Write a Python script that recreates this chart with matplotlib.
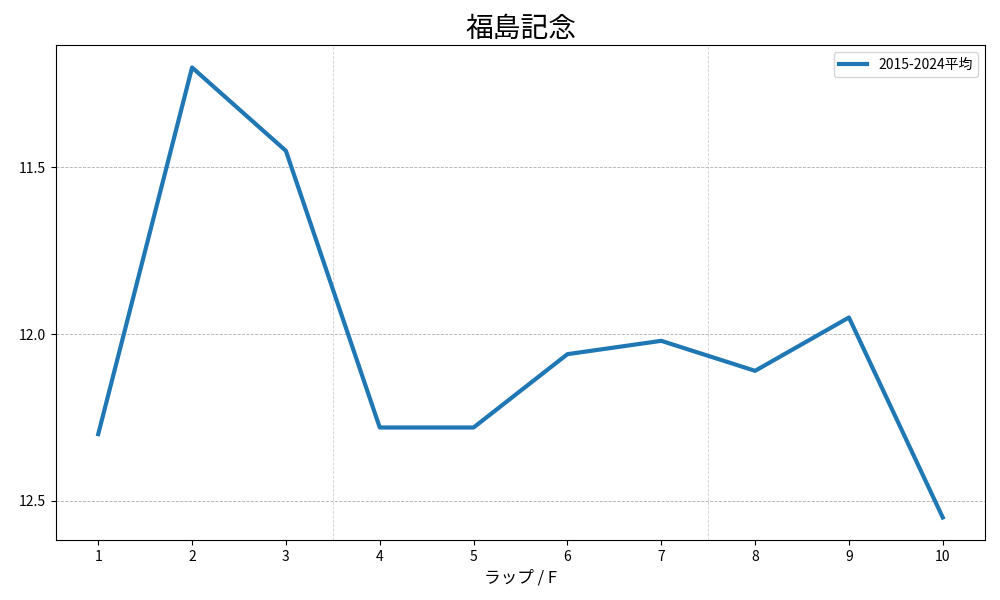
import matplotlib
matplotlib.use("Agg")
import matplotlib.pyplot as plt

plt.rcParams['font.family'] = ['Noto Sans CJK JP', 'DejaVu Sans']

# data
laps = [1, 2, 3, 4, 5, 6, 7, 8, 9, 10]
avg_times = [12.3, 11.2, 11.45, 12.28, 12.28, 12.06, 12.02, 12.11, 11.95, 12.55]
yticks = [11.5, 12.0, 12.5]
section_bounds = [3.5, 7.5]

fig, ax = plt.subplots(figsize=(10, 6), dpi=100)
ax.plot(laps, avg_times, color='#1f77b4', linewidth=3, label='2015-2024平均', zorder=3)

ax.invert_yaxis()
ax.set_xticks(laps)
ax.set_yticks(yticks)
ax.set_yticklabels([f"{v:.1f}" for v in yticks])
ax.grid(axis='y', linestyle='--', linewidth=0.6, color='#b0b0b0', zorder=0)
for b in section_bounds:
    ax.axvline(b, linestyle='--', linewidth=0.6, color='#d0d0d0', zorder=0)

ax.set_xlabel('ラップ / F', fontsize=12)
ax.set_title('福島記念', fontsize=20)
ax.legend(loc='upper right', fontsize=10)

fig.subplots_adjust(left=0.056, right=0.985, top=0.925, bottom=0.1)
fig.savefig('out.png', dpi=100)
plt.close(fig)
